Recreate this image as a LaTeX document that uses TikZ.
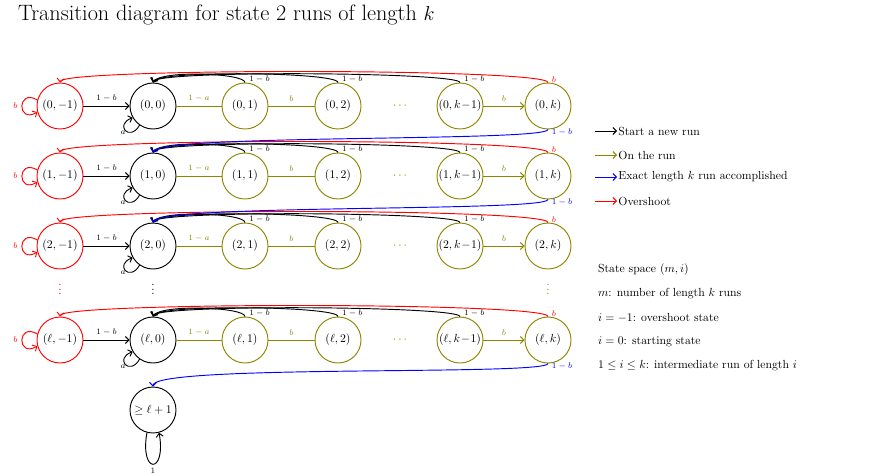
\documentclass[tikz,border=0pt]{standalone}
\usetikzlibrary{arrows.meta}
\begin{document}
\begin{tikzpicture}[x=0.03cm,y=-0.03cm,
  st/.style={circle,draw,thick,minimum size=0.03cm*46,inner sep=0pt,font=\normalsize},
  rd/.style={st,draw=red},
  bk/.style={st,draw=black},
  ol/.style={st,draw=olive},
  lb/.style={font=\scriptsize},
  e/.style={thick,-{Straight Barb[length=3pt]}},
  leg/.style={font=\normalsize,anchor=west}]
\useasboundingbox (0,0) rectangle (881,473);
\node[anchor=west,font=\fontsize{19}{22}\selectfont] (title) at (14,15) {Transition diagram for state 2 runs of length $k$};
\foreach \r/\m/\y in {0/0/106,1/1/176,2/2/246,3/\ell/340}{
  \node[rd] (a\r) at (60,\y) {$(\m,-1)$};
  \node[bk] (b\r) at (153,\y) {$(\m,0)$};
  \node[ol] (c\r) at (245,\y) {$(\m,1)$};
  \node[ol] (d\r) at (338,\y) {$(\m,2)$};
  \node[text=olive] (x\r) at (400,\y) {$\cdots$};
  \node[ol] (f\r) at (460,\y) {$(\m,k\!-\!1)$};
  \node[ol] (g\r) at (548,\y) {$(\m,k)$};
  \draw[e] (a\r) -- node[lb,above]{$1-b$} (b\r);
  \draw[thick,olive] (b\r) -- node[lb,above]{$1-a$} (c\r);
  \draw[thick,olive] (c\r) -- node[lb,above]{$b$} (d\r);
  \draw[e,olive] (f\r) -- node[lb,above]{$b$} (g\r);
  \draw[e,red] (a\r.165) to[out=150,in=210,looseness=5] node[lb,left]{$b$} (a\r.195);
  \draw[e] (b\r.235) to[out=240,in=200,looseness=5] node[lb,left,pos=0.3]{$a$} (b\r.210);
  \draw[e,red] (g\r.north) .. controls (548,\y-38) and (62,\y-38) .. node[lb,pos=0.02,right,yshift=2pt]{$b$} (a\r.north);
  \draw[e] (c\r.north) .. controls (245,\y-33) and (160,\y-36) .. node[lb,pos=0.02,right,yshift=2pt]{$1-b$} (b\r.north);
  \draw[e] (d\r.north) .. controls (338,\y-34) and (158,\y-36) .. node[lb,pos=0.02,right,yshift=2pt]{$1-b$} (b\r.north);
  \draw[e] (f\r.north) .. controls (460,\y-34) and (156,\y-36) .. node[lb,pos=0.02,right,yshift=2pt]{$1-b$} (b\r.north);
}
\draw[e,blue] (g0.south) .. controls (548,142) and (158,134) .. node[lb,pos=0.02,right,yshift=-2pt]{$1-b$} (b1.north);
\draw[e,blue] (g1.south) .. controls (548,212) and (158,204) .. node[lb,pos=0.02,right,yshift=-2pt]{$1-b$} (b2.north);
\node[bk] (z) at (153,410) {$\geq \ell+1$};
\draw[e,blue] (g3.south) .. controls (548,376) and (153,364) .. node[lb,pos=0.02,right,yshift=-2pt]{$1-b$} (z.north);
\draw[e] (z.255) to[out=260,in=280,looseness=9] node[lb,below]{$1$} (z.285);
\node[text=red,inner sep=0pt] (va) at (60,286) {$\vdots$};
\node[inner sep=0pt] (vb) at (153,286) {$\vdots$};
\node[text=olive,inner sep=0pt] (vg) at (548,286) {$\vdots$};
\foreach \i/\c/\t/\y in {1/black/Start a new run/131,2/olive/On the run/155,3/blue/Exact length $k$ run accomplished/177,4/red/Overshoot/201}{
  \coordinate (l\i) at (595,\y);
  \node[leg,inner sep=1pt] (lt\i) at (617,\y) {\t};
  \draw[e,\c] (l\i) -- (lt\i.west);
}
\node[leg] (s1) at (594,270) {State space $(m,i)$};
\node[leg] (s2) at (594,294) {$m$: number of length $k$ runs};
\node[leg] (s3) at (594,318) {$i=-1$: overshoot state};
\node[leg] (s4) at (594,342) {$i=0$: starting state};
\node[leg] (s5) at (594,366) {$1\leq i\leq k$: intermediate run of length $i$};
\end{tikzpicture}
\end{document}
